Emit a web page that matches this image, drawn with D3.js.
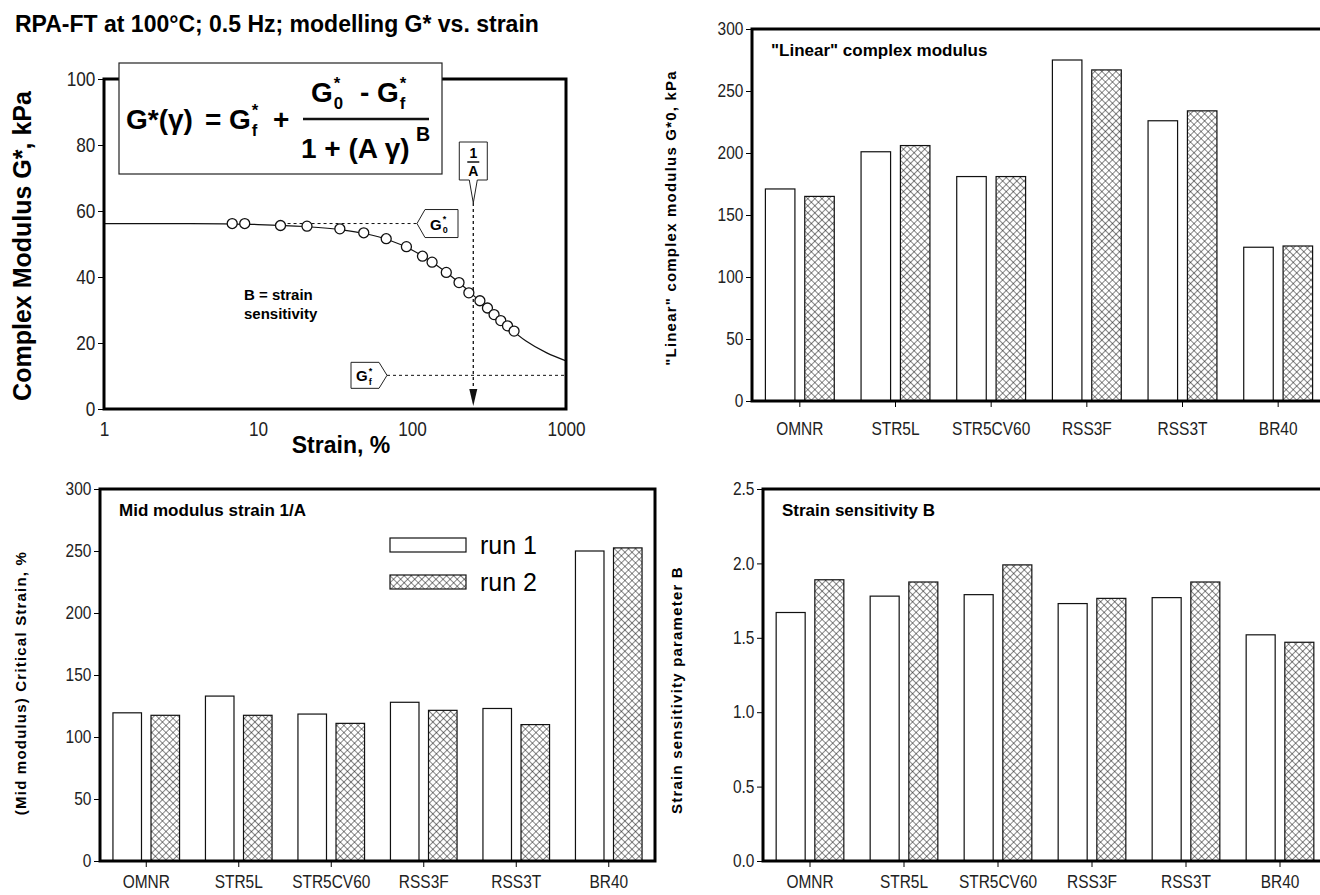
<!DOCTYPE html>
<html>
<head>
<meta charset="utf-8">
<script src="https://cdn.jsdelivr.net/npm/d3@7/dist/d3.min.js"></script>
<style>
  body { margin: 0; background: #fff; }
  text { font-family: "Liberation Sans", Arial, sans-serif; }
  .tick text { fill: #222; }
</style>
</head>
<body>
<div id="chart"></div>
<script>
// ---- data ----
// top left: measured points and fitted line
var strainPts  = [6.8, 8.2, 14, 20.8, 34, 48.6, 68, 92, 117, 135, 167, 202, 234, 276, 309, 341, 377, 417, 460];
var modulusPts = [56.2, 56.2, 55.6, 55.4, 54.6, 53.4, 51.6, 49.2, 46.3, 44.5, 41.4, 38.3, 35.2, 32.8, 30.6, 28.6, 26.8, 25.2, 23.6];
var fitStrain  = [1, 3, 6, 10, 20, 35, 50, 70, 100, 140, 200, 280, 400, 550, 750, 1000];
var fitModulus = [56.2, 56.2, 56.1, 55.9, 55.3, 54.3, 53.1, 51.3, 48.2, 44.0, 38.5, 32.4, 25.8, 20.6, 17.0, 14.6];
var G0 = 56.2, Gf = 10.2, invA = 250;
var strainTicks = [1, 10, 100, 1000];
var modulusTicks = [0, 20, 40, 60, 80, 100];

// bar panels
var samples = ["OMNR", "STR5L", "STR5CV60", "RSS3F", "RSS3T", "BR40"];
var runs = ["run 1", "run 2"];
var linG0run1 = [171, 201, 181, 275, 226, 124];
var linG0run2 = [165, 206, 181, 267, 234, 125];
var midStrainRun1 = [119.5, 133, 118.5, 128, 123, 250];
var midStrainRun2 = [117.5, 117.5, 111, 121.5, 110, 252.5];
var sensBrun1 = [1.67, 1.78, 1.79, 1.73, 1.77, 1.52];
var sensBrun2 = [1.89, 1.875, 1.99, 1.765, 1.875, 1.47];

var svg = d3.select("#chart").append("svg")
    .attr("width", 1320)
    .attr("height", 895);

// cross hatch used for run 2
var defs = svg.append("defs");
defs.append("pattern")
    .attr("id", "xhatch")
    .attr("patternUnits", "userSpaceOnUse")
    .attr("width", 5).attr("height", 5)
    .attr("patternTransform", "rotate(45)")
  .call(function(p) {
    p.append("rect").attr("width", 5).attr("height", 5).attr("fill", "#fff");
    p.append("path").attr("d", "M0,0H5M0,0V5").attr("stroke", "#111").attr("stroke-width", 1);
  });

// narrow look for the tick labels
function narrowTicks(sel, size) {
  sel.selectAll(".tick text")
    .attr("font-size", size)
    .attr("transform", "scale(0.86,1)");
}

// ---------- top left: G* vs strain ----------
var tl = {left: 104, right: 566, top: 79, bottom: 409};
var x = d3.scaleLog().domain([1, 1000]).range([tl.left, tl.right]);
var y = d3.scaleLinear().domain([0, 100]).range([tl.bottom, tl.top]);

svg.append("text")
    .attr("x", 15).attr("y", 32)
    .attr("font-size", 23).attr("font-weight", "bold")
    .text("RPA-FT at 100°C; 0.5 Hz; modelling G* vs. strain");

var gTL = svg.append("g");
gTL.append("g")
    .attr("transform", "translate(" + tl.left + ",0)")
    .call(d3.axisLeft(y).tickValues(modulusTicks).tickSize(6).tickPadding(4).tickSizeOuter(0))
    .call(function(g) { g.select(".domain").remove(); })
    .call(narrowTicks, 20);
gTL.append("g")
    .attr("transform", "translate(0," + tl.bottom + ")")
    .call(d3.axisBottom(x).tickValues(strainTicks).tickFormat(d3.format("d")).tickSize(0).tickPadding(13))
    .call(function(g) { g.select(".domain").remove(); })
    .call(narrowTicks, 20);

// fitted line and points
gTL.append("path")
    .datum(d3.zip(fitStrain, fitModulus))
    .attr("fill", "none").attr("stroke", "#111").attr("stroke-width", 1.2)
    .attr("d", d3.line().curve(d3.curveMonotoneX)
      .x(function(d) { return x(d[0]); })
      .y(function(d) { return y(d[1]); }));

// dashed guides
gTL.append("line")
    .attr("x1", x(13)).attr("x2", 417)
    .attr("y1", y(G0)).attr("y2", y(G0))
    .attr("stroke", "#111").attr("stroke-dasharray", "3,3");
gTL.append("line")
    .attr("x1", 387).attr("x2", tl.right)
    .attr("y1", y(Gf)).attr("y2", y(Gf))
    .attr("stroke", "#111").attr("stroke-dasharray", "3,3");
gTL.append("line")
    .attr("x1", x(invA)).attr("x2", x(invA))
    .attr("y1", 203).attr("y2", tl.bottom - 12)
    .attr("stroke", "#111").attr("stroke-dasharray", "3,3").attr("stroke-width", 1.3);
gTL.append("path")
    .attr("d", "M" + (x(invA) - 4) + "," + (tl.bottom - 20) + "L" + (x(invA) + 4) + "," + (tl.bottom - 20) + "L" + x(invA) + "," + (tl.bottom - 3) + "Z")
    .attr("fill", "#111");

gTL.selectAll("circle.pt")
    .data(d3.zip(strainPts, modulusPts))
    .join("circle")
    .attr("class", "pt")
    .attr("cx", function(d) { return x(d[0]); })
    .attr("cy", function(d) { return y(d[1]); })
    .attr("r", 5)
    .attr("fill", "#fff").attr("stroke", "#111").attr("stroke-width", 1.3);

// frame
gTL.append("rect")
    .attr("x", tl.left).attr("y", tl.top)
    .attr("width", tl.right - tl.left).attr("height", tl.bottom - tl.top)
    .attr("fill", "none").attr("stroke", "#000").attr("stroke-width", 3);

// helper: G with * above and a subscript
function gStar(g, x0, y0, sub, fs, weight) {
  var t = g.append("text").attr("x", x0).attr("y", y0).attr("font-size", fs).attr("font-weight", weight).text("G");
  var w = t.node().getComputedTextLength();
  g.append("text").attr("x", x0 + w + 1).attr("y", y0 - fs * 0.48).attr("font-size", fs * 0.6).attr("font-weight", weight).text("*");
  g.append("text").attr("x", x0 + w + 1).attr("y", y0 + fs * 0.25).attr("font-size", fs * 0.6).attr("font-weight", weight).text(sub);
  return x0 + w + fs * 0.4;
}
function piece(g, x0, y0, txt, fs) {
  return g.append("text").attr("x", x0).attr("y", y0).attr("font-size", fs).attr("font-weight", "bold").text(txt);
}

// formula box
var fBox = gTL.append("g");
fBox.append("rect")
    .attr("x", 119).attr("y", 63).attr("width", 323).attr("height", 111)
    .attr("fill", "#fff").attr("stroke", "#222").attr("stroke-width", 1.2);
var fs = 28;
piece(fBox, 126, 129, "G*(γ)", fs);
piece(fBox, 205, 129, "=", fs);
gStar(fBox, 229, 129, "f", fs, "bold");
piece(fBox, 273, 129, "+", fs);
fBox.append("line").attr("x1", 303).attr("x2", 429).attr("y1", 119).attr("y2", 119)
    .attr("stroke", "#111").attr("stroke-width", 2.5);
gStar(fBox, 311, 102, "0", fs, "bold");
piece(fBox, 360, 102, "-", fs);
gStar(fBox, 377, 102, "f", fs, "bold");
piece(fBox, 301, 158, "1 + (A γ)", fs);
piece(fBox, 416, 141, "B", fs * 0.7);

// callouts
var xi = x(invA);
gTL.append("path")
    .attr("d", "M" + (xi - 14) + ",142H" + (xi + 14) + "V180H" + (xi + 4) + "L" + xi + ",203L" + (xi - 4) + ",180H" + (xi - 14) + "Z")
    .attr("fill", "#fff").attr("stroke", "#222");
gTL.append("text").attr("x", xi).attr("y", 158).attr("text-anchor", "middle")
    .attr("font-size", 14).attr("font-weight", "bold").text("1");
gTL.append("line").attr("x1", xi - 6).attr("x2", xi + 6).attr("y1", 162).attr("y2", 162).attr("stroke", "#111").attr("stroke-width", 1.5);
gTL.append("text").attr("x", xi).attr("y", 176).attr("text-anchor", "middle")
    .attr("font-size", 14).attr("font-weight", "bold").text("A");

var yg0 = y(G0);
gTL.append("path")
    .attr("d", "M417," + yg0 + "L425," + (yg0 - 14) + "H458V" + (yg0 + 14) + "H425Z")
    .attr("fill", "#fff").attr("stroke", "#222");
gStar(gTL, 430, yg0 + 6, "0", 15, "bold");

var ygf = y(Gf);
gTL.append("path")
    .attr("d", "M387," + ygf + "L379," + (ygf - 13) + "H351V" + (ygf + 13) + "H379Z")
    .attr("fill", "#fff").attr("stroke", "#222");
gStar(gTL, 356, ygf + 6, "f", 15, "bold");

gTL.append("text").attr("x", 244).attr("y", 300).attr("font-size", 15).attr("font-weight", "bold").text("B = strain");
gTL.append("text").attr("x", 244).attr("y", 319).attr("font-size", 15).attr("font-weight", "bold").text("sensitivity");

gTL.append("text")
    .attr("transform", "translate(31," + ((tl.top + tl.bottom) / 2 + 2) + ") rotate(-90)")
    .attr("text-anchor", "middle").attr("font-size", 25).attr("font-weight", "bold")
    .text("Complex Modulus G*, kPa");
gTL.append("text")
    .attr("x", 341).attr("y", 453).attr("text-anchor", "middle")
    .attr("font-size", 23).attr("font-weight", "bold")
    .text("Strain, %");

// ---------- bar panels ----------
function barPanel(p) {
  var g = svg.append("g");
  var xb = d3.scaleBand().domain(samples).range([p.left, p.right]).paddingInner(0.28).paddingOuter(0.14);
  var xr = d3.scaleBand().domain(runs).range([0, xb.bandwidth()]).paddingInner(0.25);
  var yb = d3.scaleLinear().domain([0, p.max]).range([p.bottom, p.top]);

  g.append("g")
      .attr("transform", "translate(" + p.left + ",0)")
      .call(d3.axisLeft(yb).tickValues(p.ticks).tickFormat(p.fmt).tickSize(6).tickPadding(4).tickSizeOuter(0))
      .call(function(a) { a.select(".domain").remove(); })
      .call(narrowTicks, 18);
  g.append("g")
      .attr("transform", "translate(0," + p.bottom + ")")
      .call(d3.axisBottom(xb).tickSize(6).tickPadding(p.xPad).tickSizeOuter(0))
      .call(function(a) { a.select(".domain").remove(); })
      .call(narrowTicks, 18);

  var rows = samples.map(function(s, i) { return {s: s, v: [p.v1[i], p.v2[i]]}; });
  g.selectAll("g.grp")
    .data(rows)
    .join("g")
      .attr("class", "grp")
      .attr("transform", function(d) { return "translate(" + xb(d.s) + ",0)"; })
    .selectAll("rect")
    .data(function(d) { return d.v.map(function(v, j) { return {run: runs[j], v: v}; }); })
    .join("rect")
      .attr("x", function(d) { return xr(d.run); })
      .attr("y", function(d) { return yb(d.v); })
      .attr("width", xr.bandwidth())
      .attr("height", function(d) { return yb(0) - yb(d.v); })
      .attr("fill", function(d) { return d.run === "run 1" ? "#fff" : "url(#xhatch)"; })
      .attr("stroke", "#111").attr("stroke-width", 1.2);

  g.append("rect")
      .attr("x", p.left).attr("y", p.top)
      .attr("width", p.right - p.left).attr("height", p.bottom - p.top)
      .attr("fill", "none").attr("stroke", "#000").attr("stroke-width", 3);

  g.append("text")
      .attr("x", p.left + 19).attr("y", p.top + 27)
      .attr("font-size", 17).attr("font-weight", "bold")
      .text(p.title);
  g.append("text")
      .attr("transform", "translate(" + p.labelX + "," + ((p.top + p.bottom) / 2 + p.labelDy) + ") rotate(-90)")
      .attr("text-anchor", "middle").attr("font-size", 15).attr("font-weight", "bold")
      .attr("letter-spacing", 1.2)
      .text(p.label);
  return g;
}

barPanel({left: 752, right: 1326, top: 29, bottom: 401, max: 300,
  ticks: [0, 50, 100, 150, 200, 250, 300], fmt: d3.format("d"), xPad: 15,
  v1: linG0run1, v2: linG0run2,
  title: "\"Linear\" complex modulus", label: "\"Linear\" complex modulus G*0, kPa", labelX: 676, labelDy: 3});

var gBL = barPanel({left: 100, right: 655, top: 489, bottom: 861, max: 300,
  ticks: [0, 50, 100, 150, 200, 250, 300], fmt: d3.format("d"), xPad: 8,
  v1: midStrainRun1, v2: midStrainRun2,
  title: "Mid modulus strain 1/A", label: "(Mid modulus) Critical Strain, %", labelX: 26, labelDy: 8});

barPanel({left: 763, right: 1327, top: 489, bottom: 861, max: 2.5,
  ticks: [0, 0.5, 1, 1.5, 2, 2.5], fmt: d3.format(".1f"), xPad: 8,
  v1: sensBrun1, v2: sensBrun2,
  title: "Strain sensitivity B", label: "Strain sensitivity parameter B", labelX: 682, labelDy: 15});

// legend (bottom left)
var leg = gBL.append("g").selectAll("g")
    .data(runs)
    .join("g")
    .attr("transform", function(d, i) { return "translate(390," + (538 + i * 37) + ")"; });
leg.append("rect")
    .attr("width", 76).attr("height", 14)
    .attr("fill", function(d, i) { return i === 0 ? "#fff" : "url(#xhatch)"; })
    .attr("stroke", "#111").attr("stroke-width", 1.2);
leg.append("text")
    .attr("x", 90).attr("y", 16)
    .attr("font-size", 25)
    .text(function(d) { return d; });
</script>
</body>
</html>
